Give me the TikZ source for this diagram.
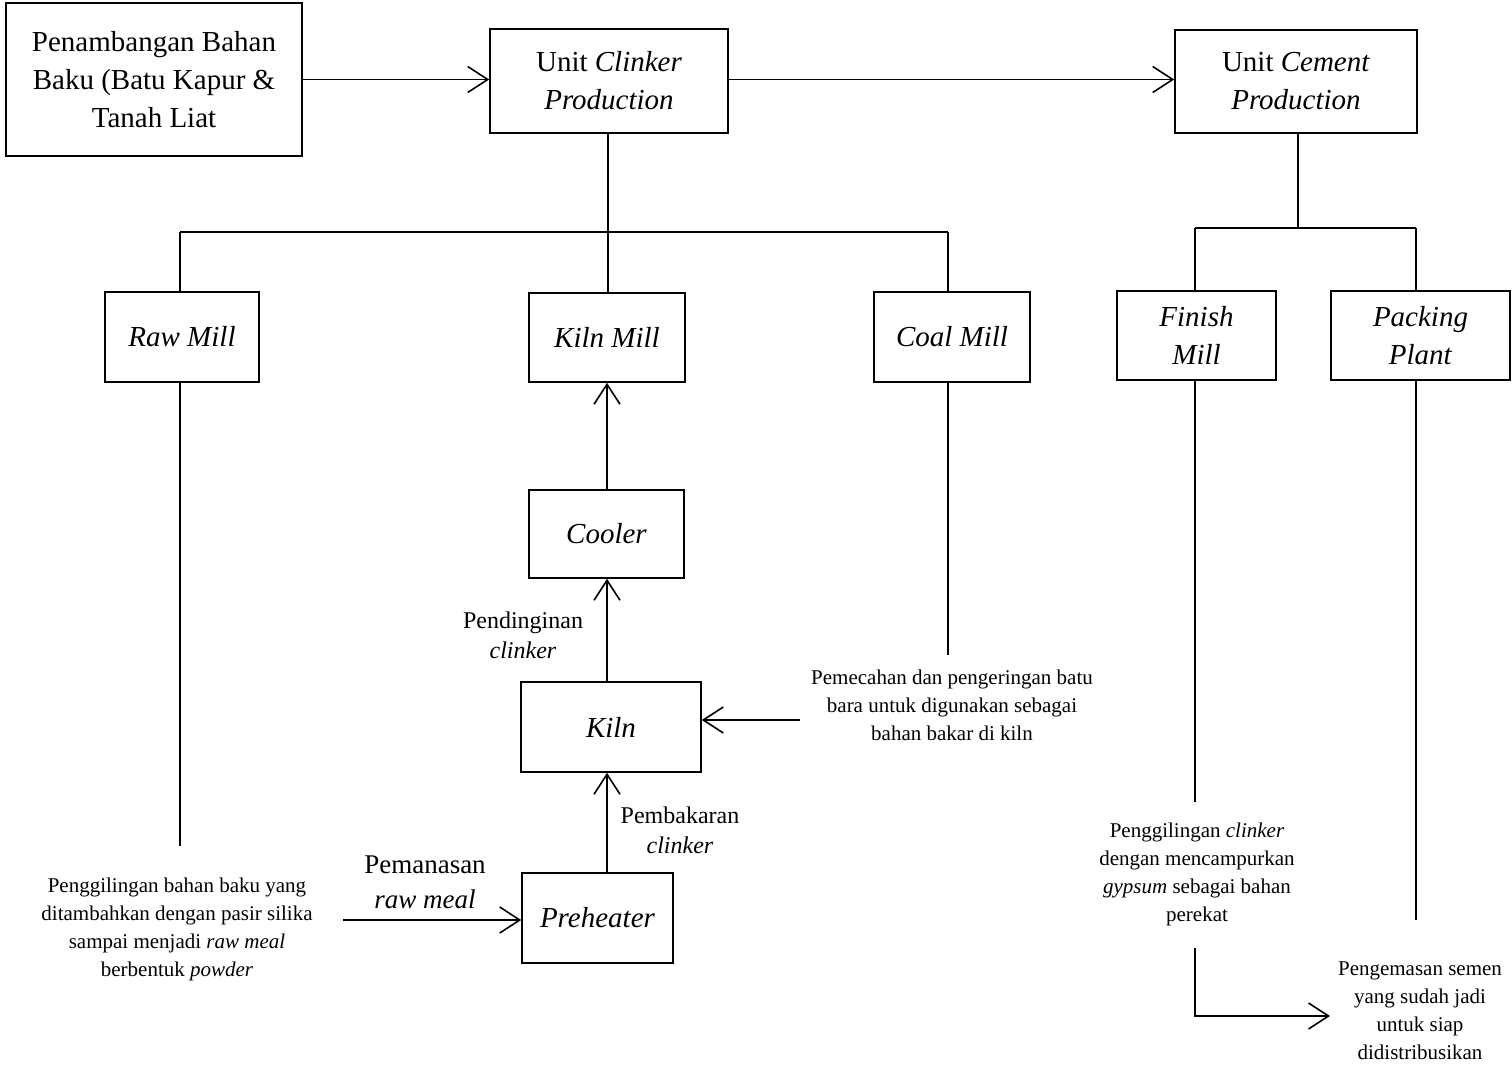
\documentclass[tikz,border=0pt]{standalone}
\usepackage{fontspec}
\setmainfont{Liberation Serif}
\usetikzlibrary{arrows.meta}
\begin{document}
\begin{tikzpicture}[x=1pt,y=-1pt,
  box/.style={draw, line width=1.6pt, align=center, inner sep=0pt, font=\fontsize{29}{38}\selectfont},
  ln/.style={line width=1.6pt},
  arr/.style={line width=1.6pt, -{Straight Barb[length=20pt,width=26pt]}},
  small/.style={align=center, inner sep=0pt, font=\fontsize{21}{28}\selectfont},
  mid/.style={align=center, inner sep=0pt, font=\fontsize{24}{30}\selectfont},
  big/.style={align=center, inner sep=0pt, font=\fontsize{27}{35}\selectfont}]
\useasboundingbox (0,0) rectangle (1512,1065);
% top boxes
\node[box, minimum width=296pt, minimum height=153pt] (mine) at (154,79.5) {Penambangan Bahan\\Baku (Batu Kapur \&\\Tanah Liat};
\node[box, minimum width=238pt, minimum height=104pt] (clk) at (609,81) {Unit \textit{Clinker}\\\textit{Production}};
\node[box, minimum width=242pt, minimum height=103pt] (cem) at (1296,81.5) {Unit \textit{Cement}\\\textit{Production}};
% second row
\node[box, minimum width=154pt, minimum height=90pt] (raw) at (182,337) {\textit{Raw Mill}};
\node[box, minimum width=156pt, minimum height=89pt] (kmill) at (607,337.5) {\textit{Kiln Mill}};
\node[box, minimum width=156pt, minimum height=90pt] (coal) at (952,337) {\textit{Coal Mill}};
\node[box, minimum width=159pt, minimum height=89pt] (fin) at (1196.5,335.5) {\textit{Finish}\\\textit{Mill}};
\node[box, minimum width=179pt, minimum height=89pt] (pack) at (1420.5,335.5) {\textit{Packing}\\\textit{Plant}};
% center column
\node[box, minimum width=155pt, minimum height=88pt] (cool) at (606.5,534) {\textit{Cooler}};
\node[box, minimum width=180pt, minimum height=90pt] (kiln) at (611,727) {\textit{Kiln}};
\node[box, minimum width=151pt, minimum height=90pt] (pre) at (597.5,918) {\textit{Preheater}};
% texts
\node[small] (traw) at (177,929) {Penggilingan bahan baku yang\\ditambahkan dengan pasir silika\\sampai menjadi \textit{raw meal}\\berbentuk \textit{powder}};
\node[big] (tpem) at (425,882) {Pemanasan\\\textit{raw meal}};
\node[mid] (tbak) at (680,830) {Pembakaran\\\textit{clinker}};
\node[mid] (tdin) at (523,635) {Pendinginan\\\textit{clinker}};
\node[small] (tcoal) at (952,705.5) {Pemecahan dan pengeringan batu\\bara untuk digunakan sebagai\\bahan bakar di kiln};
\node[small] (tfin) at (1197,874) {Penggilingan \textit{clinker}\\dengan mencampurkan\\\textit{gypsum} sebagai bahan\\perekat};
\node[small] (tpack) at (1420,1010.5) {Pengemasan semen\\yang sudah jadi\\untuk siap\\didistribusikan};
% coordinates
\coordinate (ay) at (0,79.5);
\coordinate (cx) at (607,0);
\coordinate (busL) at (180,232);
\coordinate (busR) at (948,232);
\coordinate (busC) at (608,232);
\coordinate (bus2L) at (1195,228);
\coordinate (bus2R) at (1416,228);
\coordinate (bus2C) at (1298,228);
\coordinate (rawend) at (180,846);
\coordinate (pemst) at (343,920);
\coordinate (coalend) at (948,655);
\coordinate (coalst) at (800,720);
\coordinate (finend) at (1195,802);
\coordinate (fst) at (1195,948);
\coordinate (fcorner) at (1195,1016);
\coordinate (fend) at (1330,1016);
\coordinate (packend) at (1416,920);
% connectors
\draw[arr] (mine.east |- ay) -- (clk.west |- ay);
\draw[arr] (clk.east |- ay) -- (cem.west |- ay);
\draw[ln] (clk.south -| busC) -- (busC);
\draw[ln] (busL) -- (busR);
\draw[ln] (busL) -- (raw.north -| busL);
\draw[ln] (busC) -- (kmill.north -| busC);
\draw[ln] (busR) -- (coal.north -| busR);
\draw[ln] (cem.south -| bus2C) -- (bus2C);
\draw[ln] (bus2L) -- (bus2R);
\draw[ln] (bus2L) -- (fin.north -| bus2L);
\draw[ln] (bus2R) -- (pack.north -| bus2R);
\draw[ln] (raw.south -| rawend) -- (rawend);
\draw[arr] (pemst) -- (pre.west |- pemst);
\draw[arr] (pre.north -| cx) -- (kiln.south -| cx);
\draw[arr] (kiln.north -| cx) -- (cool.south -| cx);
\draw[arr] (cool.north -| cx) -- (kmill.south -| cx);
\draw[ln] (coal.south -| coalend) -- (coalend);
\draw[arr] (coalst) -- (kiln.east |- coalst);
\draw[ln] (fin.south -| finend) -- (finend);
\draw[arr] (fst) -- (fcorner) -- (fend);
\draw[ln] (pack.south -| packend) -- (packend);
\end{tikzpicture}
\end{document}
